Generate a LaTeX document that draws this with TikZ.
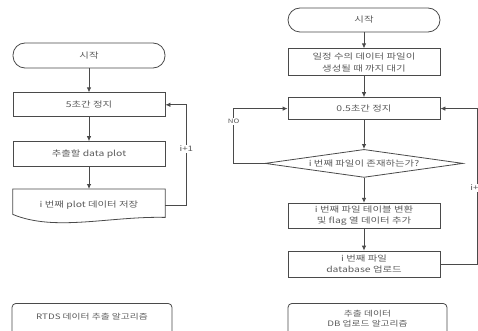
\documentclass[tikz,border=0pt]{standalone}
\usepackage{fontspec}
\newfontfamily\krfont{Noto Sans CJK KR}[FakeStretch=1.3]
\usetikzlibrary{positioning,shapes.geometric,arrows.meta}
\definecolor{linegray}{HTML}{4A4A4A}
\definecolor{textgray}{HTML}{5C5C5C}

\begin{document}
\begin{tikzpicture}[x=1pt,y=-1pt,
    boxline/.style={draw=linegray,line width=0.8pt},
    stepbox/.style={rectangle,boxline,minimum width=152pt,inner sep=1pt,align=center,
      text=textgray,font=\krfont\fontsize{8}{11.5}\selectfont},
    terminal/.style={stepbox,rounded corners=12pt},
    decision/.style={diamond,boxline,shape aspect=7,minimum width=198pt,minimum height=28pt,
      inner sep=1pt,text=textgray,font=\krfont\fontsize{8}{11.5}\selectfont},
    docbox/.style={rectangle,minimum width=152pt,inner sep=1pt,align=center,
      text=textgray,font=\krfont\fontsize{8}{11.5}\selectfont},
    captionbox/.style={rectangle,boxline,rounded corners=4pt,anchor=north,inner xsep=0pt,
      text height=6pt,text depth=16pt,align=center,text=textgray},
    flow/.style={draw=linegray,line width=0.8pt,-{Latex[length=5pt,width=4.5pt]}},
    looplabel/.style={fill=white,inner sep=1pt,text=textgray,font=\krfont\fontsize{7.5}{8}\selectfont}]

    \path[use as bounding box,fill=white] (0,0) rectangle (478,331);
    \clip (0,0) rectangle (478,331);

    % RTDS data extraction
    \node[terminal,minimum height=25pt] (startL) at (89,55.5) {시작};
    \node[stepbox,minimum height=24pt] (waitL) [below=24pt of startL] {5초간 정지};
    \node[stepbox,minimum height=25pt] (plot) [below=24pt of waitL] {추출할 data plot};
    \node[docbox,minimum height=32pt] (save) [below=22pt of plot] {i 번째 plot 데이터 저장};
    \draw[boxline] (save.north west) -- (save.north east) -- ([yshift=4pt]save.south east)
        .. controls (110,216) and (55,232) .. ([yshift=7pt]save.south west) -- cycle;

    \draw[flow] (startL) -- (waitL);
    \draw[flow] (waitL) -- (plot);
    \draw[flow] (plot) -- (save);
    \draw[flow] (save.east) -| ([xshift=21pt]waitL.east) node[looplabel,pos=0.78] {i+1} -- (waitL.east);

    \node[captionbox,minimum width=160pt,inner ysep=10pt,
        font=\krfont\fontsize{7.5}{10}\selectfont] (capL) at (92,303) {RTDS 데이터 추출 알고리즘};

    % DB upload
    \node[terminal,minimum height=24pt] (startR) at (364,20) {시작};
    \node[stepbox,minimum height=27pt] (gen) [below=16pt of startR] {일정 수의 데이터 파일이\\생성될 때 까지 대기};
    \node[stepbox,minimum height=22pt] (waitR) [below=21pt of gen] {0.5초간 정지};
    \node[decision] (exist) [below=29pt of waitR] {i 번째 파일이 존재하는가?};
    \node[stepbox,minimum height=25pt] (flag) [below=25pt of exist] {i 번째 파일 테이블 변환\\및 flag 열 데이터 추가};
    \node[stepbox,minimum height=26pt] (upload) [below=22pt of flag] {i 번째 파일\\database 업로드};

    \draw[flow] (startR) -- (gen);
    \draw[flow] (gen) -- (waitR);
    \draw[flow] (waitR) -- (exist);
    \draw[flow] (exist) -- (flag);
    \draw[flow] (flag) -- (upload);
    \draw[flow] (exist.west) -| ([xshift=-54pt]waitR.west)
        node[looplabel,pos=0.88,font=\krfont\fontsize{6}{7}\selectfont] {NO} -- (waitR.west);
    \draw[flow] (upload.east) -| ([xshift=37pt]waitR.east) node[looplabel,pos=0.745,xshift=-3pt] {i+} -- (waitR.east);

    \node[captionbox,minimum width=159pt,inner ysep=7pt,text height=16pt,
        font=\krfont\fontsize{7.5}{10}\selectfont] (capR) at (367.5,303) {추출 데이터\\DB 업로드 알고리즘};
\end{tikzpicture}
\end{document}
